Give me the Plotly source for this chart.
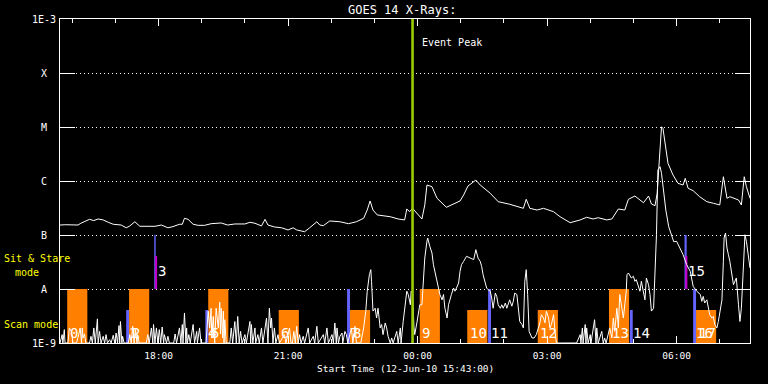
import numpy as np
import pandas as pd
import plotly.graph_objects as go

START = pd.Timestamp("2010-06-12 15:43:00")
SPAN_MIN = 959  # plotted span in minutes

# GOES 14 long channel (1-8 A), minutes after start / flux W m^-2
long_min = [0, 8, 25, 29, 41, 47, 53, 60, 67, 74, 85, 92, 97, 104, 111, 122, 132, 141, 150, 157,
            166, 170, 173, 178, 185, 192, 201, 210, 224, 233, 243, 257, 264, 271, 280, 285, 289, 298,
            308, 317, 324, 329, 340, 347, 357, 361, 366, 375, 389, 401, 412, 422, 427, 431, 435, 441,
            449, 459, 470, 479, 482, 486, 490, 496, 503, 507, 510, 517, 524, 537, 547, 556, 561, 567,
            578, 584, 598, 609, 625, 644, 648, 653, 663, 672, 686, 695, 709, 723, 732, 741, 748, 760,
            767, 776, 785, 790, 799, 811, 818, 822, 827, 830, 833, 836, 838, 841, 845, 852, 859, 866,
            869, 873, 880, 889, 899, 908, 917, 922, 927, 931, 943, 947, 951, 954, 959]
long_flux = [1.53e-7, 1.55e-7, 1.53e-7, 1.65e-7, 1.95e-7, 1.85e-7, 1.98e-7, 1.90e-7, 1.72e-7, 1.58e-7,
             1.53e-7, 1.36e-7, 1.47e-7, 1.76e-7, 1.45e-7, 1.45e-7, 1.45e-7, 1.53e-7, 1.36e-7, 1.43e-7,
             1.58e-7, 1.58e-7, 2.04e-7, 1.95e-7, 1.58e-7, 1.51e-7, 1.51e-7, 1.62e-7, 1.67e-7, 1.53e-7,
             1.60e-7, 1.60e-7, 1.72e-7, 1.65e-7, 1.47e-7, 1.95e-7, 1.53e-7, 1.41e-7, 1.36e-7, 1.24e-7,
             1.36e-7, 1.24e-7, 1.15e-7, 1.36e-7, 1.76e-7, 1.53e-7, 1.49e-7, 1.82e-7, 1.76e-7, 1.62e-7,
             1.76e-7, 2.04e-7, 2.90e-7, 4.27e-7, 2.90e-7, 2.35e-7, 2.25e-7, 2.18e-7, 1.98e-7, 1.90e-7,
             3.03e-7, 2.70e-7, 3.12e-7, 2.52e-7, 1.98e-7, 3.60e-7, 8.43e-7, 7.84e-7, 4.79e-7, 3.26e-7,
             3.75e-7, 4.27e-7, 5.51e-7, 8.07e-7, 1.04e-6, 8.43e-7, 5.92e-7, 4.14e-7, 3.71e-7, 3.12e-7,
             4.58e-7, 3.12e-7, 2.90e-7, 3.12e-7, 2.70e-7, 2.18e-7, 1.69e-7, 1.90e-7, 2.13e-7, 1.98e-7,
             2.09e-7, 1.90e-7, 1.98e-7, 3.03e-7, 2.90e-7, 4.58e-7, 5.27e-7, 3.96e-7, 5.27e-7, 3.75e-7,
             3.49e-7, 5.92e-7, 2.45e-6, 1.01e-5, 9.46e-6, 4.99e-6, 2.13e-6, 1.29e-6, 9.06e-7, 8.43e-7,
             1.12e-6, 7.33e-7, 6.61e-7, 5.12e-7, 4.14e-7, 3.87e-7, 3.60e-7, 1.20e-6, 4.79e-7, 5.12e-7,
             4.45e-7, 3.60e-7, 1.20e-6, 7.84e-7, 4.79e-7]

# GOES 14 short channel (0.5-4 A)
short_min = [0, 3, 4, 6, 7, 11, 13, 16, 18, 23, 26, 28, 30, 31, 32, 34, 36, 41, 43, 45, 47, 49, 52, 53,
             55, 57, 60, 62, 64, 66, 69, 71, 74, 76, 78, 80, 82, 83, 84, 86, 87, 89, 95, 97, 99, 101,
             103, 105, 107, 108, 110, 120, 122, 124, 127, 129, 130, 132, 134, 136, 138, 140, 142, 144,
             145, 148, 150, 152, 158, 160, 162, 166, 168, 170, 171, 173, 175, 176, 177, 179, 181, 185,
             187, 190, 191, 194, 196, 203, 206, 208, 210, 211, 213, 215, 217, 220, 222, 223, 224, 226,
             227, 228, 229, 231, 236, 238, 240, 243, 245, 247, 249, 251, 253, 257, 259, 264, 265, 266,
             268, 271, 272, 275, 277, 280, 282, 287, 289, 291, 293, 294, 296, 298, 300, 303, 305, 312,
             314, 319, 321,
             323, 325, 327, 329, 331, 333, 335, 338, 340, 345, 347, 352, 354, 357, 359, 366, 368, 371,
             373, 378, 380, 382, 384, 385, 387, 389, 392, 393, 396, 398, 400, 405, 407, 410, 412, 418,
             422, 425, 427, 430, 432, 433, 435, 438, 440, 442, 445, 447, 449, 452, 454, 456, 459, 461,
             463, 468, 470, 473, 474, 477, 480, 482, 484, 487, 488, 490, 492, 493, 496, 498, 500, 503,
             505, 507, 510, 511, 514, 517, 519, 521, 524, 526, 528, 531, 533, 535, 538, 540, 542, 544,
             547, 549, 551, 554, 556, 558, 561, 565, 570, 575, 578, 581, 584, 586, 588, 591, 593, 595,
             598, 600, 602, 605, 607, 609, 612, 614, 616, 619, 621, 625, 628, 630, 632, 635, 637, 639,
             642, 644, 646, 648, 650, 652, 656, 659, 662, 665, 667, 669, 672, 674, 676, 679, 681, 683,
             686, 688, 690, 697, 704, 718, 723, 724, 726, 727, 730, 731, 732, 734, 737, 738, 743, 745,
             746, 748, 753, 755, 757, 759, 764, 767, 769, 771, 774, 776, 778, 781, 783, 787, 788, 790,
             792, 794, 797, 799, 801, 804, 806, 808, 811, 813, 815, 818, 820, 822, 825, 826, 828, 829,
             831, 834, 836, 839, 842, 846, 850, 853, 857, 862, 866, 871, 873, 876, 880, 885, 890, 892,
             894, 896, 899, 901, 903, 906, 908, 910, 913, 915, 917, 920, 922, 923, 925, 927, 929, 931,
             936, 940, 943, 945, 947, 949, 951, 952, 954, 957, 959]
short_flux = [1e-9, 1.43e-9, 1e-9, 1.77e-9, 1e-9, 1e-9, 1.9e-9, 1.64e-9, 1e-9, 1e-9, 1.43e-9, 1.9e-9,
              1e-9, 1.9e-9, 1.24e-9, 1.47e-9, 1e-9, 1e-9, 1.33e-9, 1e-9, 1.9e-9, 1e-9, 2.8e-9, 1e-9,
              1.64e-9, 1e-9, 1.33e-9, 1e-9, 1.43e-9, 1e-9, 1.15e-9, 1e-9, 1.39e-9, 1e-9, 1.53e-9, 1e-9,
              2.1e-9, 1e-9, 2.5e-9, 1e-9, 1.33e-9, 1e-9, 1e-9, 1.43e-9, 1e-9, 2.04e-9,
              1e-9, 1.77e-9, 1e-9, 1.43e-9, 1e-9, 1e-9, 1.43e-9, 1e-9, 1.9e-9, 1e-9, 2.2e-9, 1e-9,
              1.9e-9, 1e-9, 1.77e-9, 1e-9, 1.98e-9, 1e-9,
              1.43e-9, 1e-9, 1.33e-9, 1e-9, 1e-9, 1.47e-9, 1e-9, 1.9e-9, 1e-9, 2.2e-9, 1e-9, 3.6e-9,
              1e-9, 1.9e-9, 1e-9, 1.43e-9, 1e-9, 2.2e-9,
              1e-9, 1.64e-9, 1e-9, 1.9e-9, 1e-9, 1e-9, 3.9e-9, 1.9e-9, 4.4e-9, 1.24e-9, 3.1e-9, 1e-9,
              4.4e-9, 1.9e-9, 5.7e-9, 1.47e-9, 4.4e-9, 1.24e-9,
              3.9e-9, 1e-9, 2.7e-9, 1e-9, 1e-9, 1.9e-9, 1e-9, 2.5e-9, 1e-9, 3.1e-9, 1e-9, 1.64e-9,
              1e-9, 1.43e-9, 1e-9, 2.5e-9, 1e-9, 2.2e-9,
              1e-9, 1.9e-9, 1e-9, 1.43e-9, 1e-9, 1.9e-9, 1e-9, 2.9e-9, 1e-9, 4.4e-9, 1.9e-9, 2.9e-9,
              1e-9, 1.9e-9, 1e-9, 1.43e-9, 1e-9, 1.43e-9,
              1e-9, 1.9e-9, 1e-9,
              1e-9, 1.64e-9, 1e-9, 2.04e-9, 1e-9, 1.43e-9, 1e-9, 1.33e-9, 1e-9, 1.9e-9, 1e-9, 1.33e-9,
              1e-9, 2.04e-9, 1e-9, 1.43e-9, 1e-9, 1.9e-9,
              1e-9, 1.43e-9, 1e-9, 2.35e-9, 1e-9, 1.9e-9, 1e-9, 1.33e-9, 1.53e-9, 1e-9, 1.64e-9,
              1.43e-9, 1e-9, 1.9e-9, 1e-9, 2.04e-9, 1e-9, 1e-9,
              1.9e-9, 3.9e-9, 9.1e-9, 1.84e-8, 2.28e-8, 1.39e-8, 3.9e-9, 4.4e-9, 2.9e-9, 4.4e-9,
              1.9e-9, 2.2e-9, 1.43e-9, 2.35e-9, 1.9e-9, 1.33e-9, 1e-9, 1.24e-9,
              1e-9, 1.64e-9, 1e-9, 1.9e-9, 1e-9, 2.5e-9, 5.1e-9, 9.1e-9, 7.9e-9, 5.1e-9, 9.1e-9,
              8.4e-9, 1.9e-9, 1.43e-9, 2.35e-9, 3.35e-9, 5.1e-9, 5.1e-9,
              1.6e-8, 3.75e-8, 7.64e-8, 8.8e-8, 6.17e-8, 4.64e-8, 2.82e-8, 2.12e-8, 1.49e-8, 1.12e-8,
              7.9e-9, 6.3e-9, 7.9e-9, 4.4e-9, 2.9e-9, 5.1e-9, 6.8e-9, 7.9e-9,
              1.04e-8, 9.1e-9, 1.04e-8, 1.29e-8, 2.12e-8, 2.82e-8, 3.25e-8, 4.03e-8, 3.75e-8, 3.5e-8,
              5.35e-8, 3.75e-8, 3.25e-8, 2.63e-8, 1.84e-8, 1.29e-8, 1.04e-8, 9.7e-9,
              9.1e-9, 6.8e-9, 4.4e-9, 8.4e-9, 7.3e-9, 5.1e-9, 4.4e-9, 5.1e-9, 4.4e-9, 5.5e-9, 4.4e-9,
              6.3e-9, 4.8e-9, 5.9e-9, 8.4e-9, 7.9e-9, 3.9e-9, 2.5e-9,
              2.2e-9, 1.9e-9, 1.39e-8, 2.28e-8, 7.9e-9, 1.64e-9, 1.24e-9, 1.24e-9, 1.43e-9, 1.9e-9,
              2.35e-9, 3.35e-9, 2.9e-9, 2.35e-9, 3.9e-9, 2.9e-9, 1.9e-9, 2.2e-9,
              3.35e-9, 1.64e-9, 1e-9, 1e-9, 1e-9, 1e-9, 1.43e-9, 1e-9, 1.9e-9, 1e-9, 2.2e-9, 1e-9,
              1.9e-9, 1e-9, 1.43e-9, 1e-9, 2.7e-9, 1e-9,
              1.9e-9, 1e-9, 1.64e-9, 1e-9, 1.24e-9, 1e-9, 1.9e-9, 1.24e-9, 2.9e-9, 1.64e-9, 4.4e-9,
              1.9e-9, 7.9e-9, 4.4e-9, 2.9e-9, 9.1e-9, 1.84e-8, 1.98e-8,
              1.72e-8, 1.6e-8, 1.72e-8, 1.39e-8, 1.49e-8, 1.12e-8, 9.1e-9, 1.39e-8, 7.9e-9, 6.3e-9,
              1.6e-8, 1.2e-8, 7.9e-9, 3.9e-9, 4.4e-9, 1.04e-8, 3.25e-8, 1.01e-7,
              1.6e-6, 1.84e-6, 1.39e-6, 5.92e-7, 2.9e-7, 1.43e-7, 9.3e-8, 7.5e-8, 7.64e-8, 5.74e-8,
              4.32e-8, 2.82e-8, 2.45e-8, 2.12e-8, 1.12e-8, 9.1e-9, 7.9e-9, 5.9e-9,
              7.3e-9, 5.5e-9, 6.3e-9, 4.4e-9, 3.35e-9, 2.9e-9, 3.1e-9, 2.2e-9, 1.9e-9, 2.5e-9, 3.9e-9,
              6.3e-9, 3.25e-8, 8.8e-8, 1.09e-7, 5.74e-8, 4.32e-8, 3.25e-8,
              1.2e-8, 1.6e-8, 5.1e-9, 2.5e-9, 4.4e-9, 1.84e-8, 5.74e-8, 1.01e-7, 7.64e-8, 4.32e-8,
              2.45e-8]

# observing segments (minutes after start)
seg_id = [0, 1, 2, 3, 4, 5, 6, 7, 8, 9, 10, 11, 12, 13, 14, 15, 16, 17]
seg_kind = ["scan", "pre", "scan", "stare", "pre", "scan", "scan", "pre", "scan", "scan",
            "scan", "pre", "scan", "scan", "pre", "stare", "pre", "scan"]
seg_start = [10, 92, 96, 131, 202, 206, 304, 399, 403, 500, 566, 595, 664, 763, 792, 868, 880, 884]
seg_end = [38, 96, 124, 133, 206, 234, 332, 403, 431, 528, 594, 599, 692, 791, 796, 871, 884, 912]
seg_top = [1e-8, 4.1e-9, 1e-8, 1e-7, 4.1e-9, 1e-8, 4.1e-9, 1e-8, 4.1e-9, 1e-8,
           4.1e-9, 1e-8, 4.1e-9, 1e-8, 4.1e-9, 1e-7, 1e-8, 4.1e-9]
stare_mark_start = [132, 869]
stare_mark_end = [135, 872]
stare_mark_top = [4.1e-8, 4.1e-8]

peak_min = 490

level_vals = [1e-9, 1e-8, 1e-7, 1e-6, 1e-5, 1e-4, 1e-3]
level_text = ["1E-9", "A", "B", "C", "M", "X", "1E-3"]


def t(m):
    return START + pd.to_timedelta(m, unit="min")


FONT = "DejaVu Sans Mono"
ORANGE = "#ff8000"
BLUE = "#6464ff"
MAGENTA = "#c000c8"

fig = go.Figure()


def rects(starts, ends, bottoms, tops, color):
    xs, ys = [], []
    for s, e, b, tp in zip(starts, ends, bottoms, tops):
        xs += [t(s), t(s), t(e), t(e), t(s), None]
        ys += [b, tp, tp, b, b, None]
    fig.add_trace(go.Scatter(x=xs, y=ys, mode="lines", fill="toself", fillcolor=color,
                             line=dict(width=0, color=color), hoverinfo="skip", showlegend=False))


scan_idx = [i for i, k in enumerate(seg_kind) if k == "scan"]
pre_idx = [i for i, k in enumerate(seg_kind) if k == "pre"]
stare_idx = [i for i, k in enumerate(seg_kind) if k == "stare"]

rects([seg_start[i] for i in scan_idx], [seg_end[i] for i in scan_idx],
      [1e-9] * len(scan_idx), [seg_top[i] for i in scan_idx], ORANGE)
rects([seg_start[i] for i in pre_idx], [seg_end[i] for i in pre_idx],
      [1e-9] * len(pre_idx), [seg_top[i] for i in pre_idx], BLUE)
rects([seg_start[i] for i in stare_idx], [seg_end[i] for i in stare_idx],
      [1e-8] * len(stare_idx), [seg_top[i] for i in stare_idx], BLUE)
rects(stare_mark_start, stare_mark_end, [1e-8] * len(stare_mark_start), stare_mark_top, MAGENTA)

fig.add_trace(go.Scatter(x=t(np.array(long_min)), y=long_flux, mode="lines",
                         line=dict(color="white", width=1), showlegend=False))
fig.add_trace(go.Scatter(x=t(np.array(short_min)), y=short_flux, mode="lines",
                         line=dict(color="white", width=1), showlegend=False))

fig.add_trace(go.Scatter(x=[t(peak_min), t(peak_min)], y=[1e-9, 1e-3], mode="lines",
                         line=dict(color="#9acd00", width=2.6), showlegend=False))

ann = []
for i, sid in enumerate(seg_id):
    ypos = 0.2207 if seg_kind[i] == "stare" else 0.031
    xoff = 2.5 if seg_kind[i] == "stare" else 1.0
    ann.append(dict(x=t(seg_start[i] + xoff), y=ypos, xref="x", yref="paper", text=str(sid),
                    showarrow=False, xanchor="left", yanchor="middle",
                    font=dict(family=FONT, size=14, color="white")))

for v, txt in zip(level_vals, level_text):
    ann.append(dict(x=-0.0232, y=np.log10(v), xref="paper", yref="y", text=txt, showarrow=False,
                    xanchor="center", yanchor="middle",
                    font=dict(family=FONT, size=10, color="white")))

ann.append(dict(x=-0.0841, y=0.2593, xref="paper", yref="paper", text="Sit & Stare",
                showarrow=False, xanchor="left", yanchor="middle",
                font=dict(family=FONT, size=10, color="#ffff00")))
ann.append(dict(x=-0.0681, y=0.2191, xref="paper", yref="paper", text="mode",
                showarrow=False, xanchor="left", yanchor="middle",
                font=dict(family=FONT, size=10, color="#ffff00")))
ann.append(dict(x=-0.0841, y=0.0586, xref="paper", yref="paper", text="Scan mode",
                showarrow=False, xanchor="left", yanchor="middle",
                font=dict(family=FONT, size=10, color="#ffff00")))

ann.append(dict(x=t(peak_min + 10), y=0.926, xref="x", yref="paper", text="Event Peak",
                showarrow=False, xanchor="left", yanchor="middle",
                font=dict(family=FONT, size=10, color="white")))
ann.append(dict(x=0.4957, y=1.0278, xref="paper", yref="paper", text="GOES 14 X-Rays:",
                showarrow=False, xanchor="center", yanchor="middle",
                font=dict(family=FONT, size=12, color="white")))
ann.append(dict(x=0.5, y=-0.0772, xref="paper", yref="paper",
                text="Start Time (12-Jun-10 15:43:00)",
                showarrow=False, xanchor="center", yanchor="middle",
                font=dict(family=FONT, size=9.5, color="white")))

fig.update_layout(
    width=768, height=384,
    margin=dict(l=60, r=18, t=19, b=41),
    paper_bgcolor="black", plot_bgcolor="black",
    showlegend=False,
    annotations=ann,
    font=dict(family=FONT, color="white"),
)

fig.update_xaxes(
    type="date", range=[t(0), t(SPAN_MIN)],
    tick0="2010-06-12 18:00:00", dtick=3 * 3600000, tickformat="%H:%M",
    ticks="inside", ticklen=7, tickcolor="white", tickwidth=1,
    minor=dict(dtick=3600000, ticks="inside", ticklen=4, tickcolor="white", showgrid=False),
    showline=True, linecolor="white", linewidth=1, mirror="allticks",
    showgrid=False, zeroline=False,
    tickfont=dict(family=FONT, size=9.5, color="white"),
    ticklabelstandoff=4,
)
fig.update_yaxes(
    type="log", range=[-9, -3],
    tickvals=level_vals, showticklabels=False,
    ticks="inside", ticklen=15, tickcolor="white", tickwidth=1,
    showline=True, linecolor="white", linewidth=1, mirror="allticks",
    showgrid=True, gridcolor="white", gridwidth=1, griddash="1px,3px",
    zeroline=False,
)

# remove the page's default body margin so the 768x384 figure fills the window exactly
fig.write_html("out.html",
               config={"displayModeBar": False},
               post_script="document.body.style.margin='0px';document.body.style.background='black';")
